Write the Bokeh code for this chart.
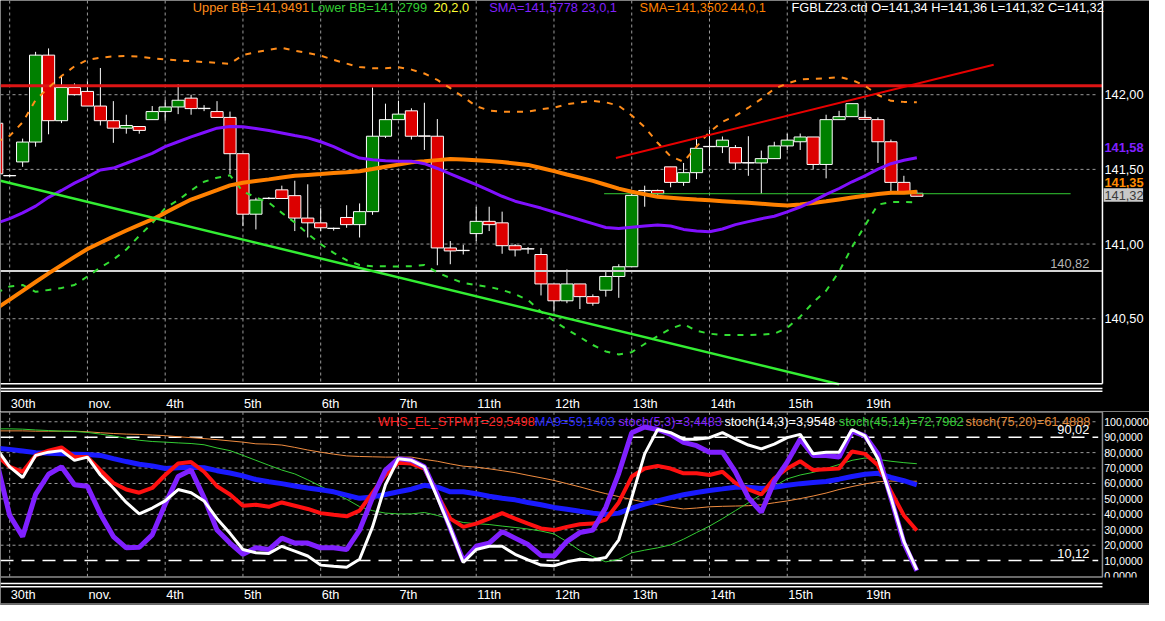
from bokeh.plotting import figure
from bokeh.layouts import column
from bokeh.models import Range1d
from bokeh.core.properties import value
from bokeh.embed import file_html
from bokeh.resources import INLINE

# ---------------- data ----------------
idx = list(range(-1, 71))

open_ = [141.809, 141.457, 141.550, 141.683, 142.265, 141.826, 142.048, 142.022, 141.924, 141.826,
         141.776, 141.787, 141.833, 141.887, 141.918, 141.977, 141.907, 141.887, 141.848, 141.605,
         141.200, 141.305, 141.363, 141.324, 141.174, 141.142, 141.104, 141.178, 141.130, 141.217,
         141.722, 141.833, 141.892, 141.722, 141.722, 140.974, 140.956, 141.070, 141.152, 141.142,
         140.989, 140.967, 140.930, 140.733, 140.620, 140.733, 140.648, 140.691, 140.783, 140.848,
         141.357, 141.359, 141.517, 141.413, 141.478, 141.652, 141.652, 141.646, 141.543, 141.543,
         141.572, 141.657, 141.685, 141.717, 141.533, 141.833, 141.853, 141.848, 141.833, 141.685,
         141.413, 141.340]
high = [141.820, 141.465, 141.706, 142.287, 142.310, 142.120, 142.076, 142.090, 142.179, 141.957,
        141.866, 141.790, 141.924, 141.967, 142.070, 142.000, 141.930, 141.957, 141.887, 141.605,
        141.310, 141.315, 141.391, 141.424, 141.400, 141.240, 141.110, 141.260, 141.272, 142.048,
        141.940, 141.960, 141.909, 141.946, 141.837, 141.020, 140.995, 141.250, 141.250, 141.217,
        141.000, 140.980, 140.974, 140.733, 140.830, 140.733, 140.663, 140.826, 140.865, 141.350,
        141.391, 141.365, 141.517, 141.543, 141.717, 141.765, 141.720, 141.663, 141.722, 141.626,
        141.685, 141.739, 141.740, 141.717, 141.866, 141.892, 141.940, 141.892, 141.848, 141.700,
        141.457, 141.360]
low = [141.470, 141.450, 141.517, 141.652, 141.735, 141.810, 141.995, 141.924, 141.794, 141.678,
       141.739, 141.739, 141.833, 141.826, 141.870, 141.866, 141.890, 141.848, 141.468, 141.120,
       141.098, 141.300, 141.305, 141.087, 141.044, 141.087, 141.090, 141.109, 141.044, 141.196,
       141.710, 141.833, 141.700, 141.630, 140.858, 140.865, 140.930, 141.020, 141.087, 140.935,
       140.917, 140.935, 140.656, 140.548, 140.604, 140.565, 140.587, 140.648, 140.640, 140.848,
       141.250, 141.330, 141.380, 141.390, 141.435, 141.522, 141.609, 141.500, 141.457, 141.337,
       141.572, 141.630, 141.630, 141.500, 141.440, 141.833, 141.853, 141.835, 141.543, 141.350,
       141.352, 141.320]
close = [141.470, 141.457, 141.683, 142.265, 141.826, 142.048, 142.000, 141.924, 141.826, 141.776,
         141.794, 141.761, 141.887, 141.918, 141.963, 141.907, 141.907, 141.848, 141.605, 141.200,
         141.295, 141.305, 141.305, 141.174, 141.142, 141.109, 141.104, 141.130, 141.217, 141.722,
         141.833, 141.870, 141.722, 141.722, 140.974, 140.954, 140.956, 141.152, 141.130, 140.989,
         140.961, 140.967, 140.733, 140.620, 140.733, 140.648, 140.604, 140.783, 140.848, 141.326,
         141.357, 141.337, 141.413, 141.478, 141.641, 141.652, 141.696, 141.543, 141.543, 141.572,
         141.657, 141.696, 141.717, 141.533, 141.833, 141.853, 141.940, 141.835, 141.685, 141.413,
         141.352, 141.320]

sma23 = [141.140, 141.170, 141.209, 141.254, 141.313, 141.359, 141.408, 141.450, 141.496, 141.509,
         141.541, 141.574, 141.607, 141.652, 141.685, 141.718, 141.747, 141.776, 141.787, 141.786,
         141.774, 141.760, 141.744, 141.727, 141.711, 141.685, 141.652, 141.613, 141.576, 141.564,
         141.558, 141.554, 141.554, 141.538, 141.506, 141.470, 141.434, 141.398, 141.359, 141.320,
         141.287, 141.264, 141.241, 141.215, 141.189, 141.163, 141.137, 141.111, 141.104, 141.113,
         141.121, 141.127, 141.121, 141.098, 141.088, 141.083, 141.101, 141.130, 141.150, 141.170,
         141.186, 141.215, 141.248, 141.287, 141.333, 141.372, 141.417, 141.457, 141.502, 141.538,
         141.561, 141.578]
sma44 = [140.570, 140.628, 140.687, 140.746, 140.804, 140.859, 140.914, 140.967, 141.009, 141.051,
         141.091, 141.128, 141.165, 141.209, 141.255, 141.298, 141.330, 141.361, 141.393, 141.410,
         141.422, 141.433, 141.445, 141.457, 141.463, 141.469, 141.476, 141.481, 141.488, 141.502,
         141.517, 141.532, 141.548, 141.554, 141.562, 141.569, 141.566, 141.561, 141.556, 141.549,
         141.540, 141.530, 141.509, 141.488, 141.466, 141.445, 141.423, 141.397, 141.371, 141.350,
         141.333, 141.316, 141.310, 141.304, 141.298, 141.293, 141.287, 141.281, 141.276, 141.270,
         141.264, 141.258, 141.265, 141.275, 141.286, 141.299, 141.312, 141.323, 141.335, 141.344,
         141.344, 141.350]
upper_bb = [141.685, 141.724, 141.815, 141.965, 142.047, 142.125, 142.190, 142.233, 142.248, 142.257,
            142.259, 142.256, 142.244, 142.236, 142.230, 142.224, 142.219, 142.213, 142.207, 142.266,
            142.285, 142.301, 142.314, 142.295, 142.280, 142.262, 142.233, 142.208, 142.185, 142.177,
            142.177, 142.184, 142.168, 142.142, 142.099, 142.044, 141.985, 141.923, 141.894, 141.886,
            141.886, 141.887, 141.903, 141.913, 141.936, 141.949, 141.959, 141.949, 141.926, 141.861,
            141.783, 141.678, 141.587, 141.551, 141.652, 141.750, 141.819, 141.858, 141.913, 141.972,
            142.040, 142.076, 142.102, 142.106, 142.109, 142.119, 142.098, 142.060, 141.998, 141.959,
            141.952, 141.949]
lower_bb = [140.674, 140.716, 140.726, 140.680, 140.693, 140.706, 140.726, 140.783, 140.843, 140.896,
            140.964, 141.055, 141.140, 141.241, 141.294, 141.359, 141.417, 141.444, 141.460, 141.352,
            141.313, 141.277, 141.209, 141.144, 141.069, 141.000, 140.941, 140.892, 140.860, 140.852,
            140.852, 140.849, 140.852, 140.860, 140.811, 140.772, 140.739, 140.725, 140.713, 140.693,
            140.664, 140.625, 140.547, 140.485, 140.429, 140.377, 140.324, 140.281, 140.261, 140.276,
            140.331, 140.384, 140.433, 140.464, 140.419, 140.400, 140.391, 140.391, 140.391, 140.393,
            140.400, 140.439, 140.514, 140.609, 140.687, 140.815, 140.980, 141.124, 141.264, 141.282,
            141.282, 141.280]

whs_stpmt = [78.2, 70.8, 67.6, 78.2, 81.3, 83.4, 77.1, 77.1, 68.7, 60.3,
             56.1, 54.0, 57.1, 65.5, 72.9, 73.9, 67.6, 58.2, 52.9, 45.6,
             46.2, 44.9, 47.7, 45.6, 43.5, 40.8, 39.7, 38.7, 42.4, 54.0,
             65.5, 73.5, 72.9, 69.7, 52.9, 37.2, 31.9, 34.0, 37.2, 40.8,
             37.2, 34.0, 30.9, 29.8, 31.9, 33.6, 34.0, 36.6, 47.7, 64.5,
             69.7, 71.4, 69.7, 66.6, 66.6, 65.5, 67.6, 60.3, 56.1, 52.9,
             63.4, 69.7, 74.4, 68.7, 69.3, 69.7, 80.7, 79.2, 71.8, 55.0,
             39.3, 29.55]
ma9 = [82.8, 82.1, 81.1, 80.0, 79.6, 79.2, 79.0, 78.8, 78.2, 76.1,
       74.2, 72.5, 71.4, 69.7, 70.2, 70.6, 70.2, 68.3, 66.8, 64.9,
       62.6, 61.1, 59.9, 58.4, 57.1, 55.9, 54.6, 52.5, 50.4, 51.3,
       52.9, 54.6, 56.3, 58.8, 57.6, 54.6, 54.6, 53.4, 51.7, 50.4,
       49.4, 47.7, 46.2, 44.5, 43.3, 42.0, 40.8, 39.9, 40.8, 44.1,
       46.6, 48.7, 50.8, 52.7, 54.2, 55.5, 56.5, 57.6, 57.6, 56.7,
       57.6, 58.8, 59.9, 60.7, 61.3, 62.8, 64.5, 66.0, 66.6, 63.9,
       61.8, 59.14]
stoch_5_3 = [74.0, 39.3, 25.6, 52.9, 66.0, 70.8, 59.2, 58.2, 40.3, 25.6,
             18.3, 18.7, 26.7, 46.6, 64.5, 68.7, 50.8, 29.8, 21.4, 14.1,
             18.3, 17.2, 24.6, 21.4, 21.4, 18.3, 18.3, 17.2, 29.8, 50.8,
             68.7, 76.1, 75.0, 70.8, 52.9, 30.9, 9.9, 19.3, 21.4, 28.8,
             24.6, 20.4, 13.4, 13.0, 22.5, 28.2, 29.8, 44.5, 66.6, 92.9,
             96.6, 95.0, 91.8, 86.6, 84.5, 80.3, 80.3, 67.6, 50.8, 41.4,
             61.3, 73.9, 88.7, 78.2, 78.2, 77.1, 93.9, 90.8, 79.2, 50.8,
             21.4, 3.45]
stoch_14_3 = [82.5, 70.8, 63.9, 78.2, 80.3, 81.3, 75.0, 77.1, 65.5, 57.1,
              47.7, 40.3, 44.1, 48.7, 56.1, 54.0, 48.7, 37.2, 27.7, 17.2,
              15.1, 14.7, 19.3, 16.2, 13.0, 7.1, 6.3, 5.7, 10.9, 31.9,
              59.2, 76.1, 75.0, 70.8, 50.8, 30.9, 8.8, 17.2, 19.3, 19.3,
              14.1, 10.5, 7.1, 6.7, 9.2, 10.9, 10.5, 12.0, 23.5, 50.8,
              79.2, 95.0, 92.9, 88.7, 88.7, 89.7, 92.9, 88.7, 84.9, 82.4,
              85.5, 89.7, 91.8, 79.2, 80.3, 80.3, 95.0, 90.8, 76.1, 50.8,
              22.5, 3.95]
stoch_45_14 = [95.4, 95.4, 95.2, 94.7, 94.3, 93.9, 93.7, 93.1, 92.0, 90.8,
               89.3, 88.0, 87.2, 86.8, 86.3, 85.9, 85.1, 83.0, 81.3, 78.2,
               75.0, 71.8, 68.7, 66.2, 62.4, 58.2, 54.0, 49.8, 45.0, 42.4,
               40.8, 40.3, 40.3, 41.2, 39.3, 36.8, 34.7, 34.0, 33.4, 32.4,
               31.5, 30.5, 29.2, 27.3, 22.3, 16.6, 12.6, 9.2, 10.9, 15.1,
               16.8, 18.3, 20.2, 23.9, 28.2, 32.4, 37.2, 42.4, 47.5, 52.9,
               58.2, 63.0, 65.5, 67.2, 69.7, 72.3, 75.0, 76.5, 75.6, 74.4,
               73.5, 72.80]
stoch_75_20 = [94.1, 94.1, 94.1, 93.9, 93.9, 93.9, 93.9, 93.5, 92.9, 92.4,
               92.0, 91.8, 91.4, 91.0, 90.3, 89.7, 89.1, 88.4, 87.6, 86.8,
               85.7, 85.5, 84.9, 83.4, 81.7, 80.3, 79.0, 77.9, 77.5, 77.3,
               77.1, 77.1, 77.1, 75.6, 74.4, 72.7, 71.2, 70.6, 69.5, 68.3,
               67.0, 65.3, 63.7, 62.0, 59.9, 57.8, 55.5, 53.4, 51.5, 49.6,
               47.9, 46.2, 44.7, 43.5, 44.1, 44.9, 45.2, 45.4, 45.6, 46.2,
               47.5, 48.7, 50.2, 51.9, 53.8, 56.1, 58.0, 59.7, 61.1, 61.6,
               61.3, 61.49]

# user-drawn lines (candle index, price)
red_trend_x = [46.78, 75.93]
red_trend_y = [141.576, 142.200]
green_trend_x = [-0.71, 64.0]
green_trend_y = [141.424, 140.061]
red_level = 142.06
white_level = 140.82
green_level = 141.337
green_level_start = 45.87

day_pos = [0, 6, 12, 18, 24, 30, 36, 42, 48, 54, 60, 66]
day_labels = ["30th", "nov.", "4th", "5th", "6th", "7th", "11th", "12th", "13th", "14th", "15th", "19th"]
price_ticks = [142.0, 141.5, 141.0, 140.5]
price_tick_labels = ["142,00", "141,50", "141,00", "140,50"]
osc_ticks = [100, 90, 80, 70, 60, 50, 40, 30, 20, 10, 0]
osc_tick_labels = ["100,0000", "90,0000", "80,0000", "70,0000", "60,0000", "50,0000",
                   "40,0000", "30,0000", "20,0000", "10,0000", "0,0000"]
osc_grid = [100, 80, 70, 60, 50, 40, 30, 20]
osc_levels = [90.02, 10.12]
osc_level_labels = ["90,02", "10,12"]

header_texts = ["Upper BB=141,9491", "Lower BB=141,2799", "20,2,0", "SMA=141,5778", "23,0,1",
                "SMA=141,3502", "44,0,1", "FGBLZ23.ctd O=141,34 H=141,36 L=141,32 C=141,32"]
header_colors = ["#ff8c1a", "#33cc33", "#ffff33", "#8020ff", "#8020ff", "#ff8000", "#ff8000", "#ffffff"]
osc_legend = ["WHS_EL_STPMT=29,5498", "MA9=59,1403", "stoch(5,3)=3,4483", "stoch(14,3)=3,9548",
              "stoch(45,14)=72,7982", "stoch(75,20)=61,4888"]
osc_legend_colors = ["#ff2020", "#2a2aff", "#8020ff", "#ffffff", "#33cc33", "#e08a3a"]

# ---------------- layout (reference pixels -> page) ----------------
REF_W, REF_H = 1165, 621
W, H = 1149, 605
SX, SY = W / REF_W, H / REF_H
H1 = round(421.7 * SY)
H2 = H - H1
OSC_TOP = H1 / SY

def xi(px):   # reference x pixel -> candle index
    return (px - 9.3) / 13.14

def yp(py):   # reference y pixel -> price
    return 142 - (py - 96.7) / 153.3

def yo(py):   # reference y pixel -> oscillator value
    return (590.8 - py) / 1.584

header_x = [xi(v) for v in [195, 314.6, 439, 495.6, 589, 648, 740, 802]]
osc_legend_x = [xi(v) for v in [382.7, 541.7, 626.7, 734, 850, 978.5]]

FONT = value("Liberation Sans")
FS = value(f"{13 * SX:.1f}px")
FS_OSC_AX = value("10.7px")
GRID_C = "#9a9a9a"


def make_fig(h, yr):
    f = figure(width=W, height=h, x_range=Range1d(xi(0), xi(REF_W)), y_range=yr,
               output_backend="svg", toolbar_location=None,
               x_axis_location=None, y_axis_location=None, min_border=0,
               background_fill_color="black", border_fill_color="black",
               outline_line_color=None)
    f.grid.visible = False
    return f

# ---------------- price panel ----------------
p = make_fig(H1, Range1d(yp(H1 / SY), yp(0)))

p.segment(x0=day_pos, y0=[yp(0)] * len(day_pos), x1=day_pos, y1=[yp(393.3)] * len(day_pos),
          line_color=GRID_C, line_width=1, line_dash="3 3")
p.segment(x0=[xi(0)] * 4, y0=price_ticks, x1=[xi(1113)] * 4, y1=price_ticks,
          line_color=GRID_C, line_width=1, line_dash="3 3")

p.segment(x0=idx, y0=low, x1=idx, y1=high, line_color="white", line_width=1)
tops = [max(o, c) for o, c in zip(open_, close)]
bots = [min(o, c) for o, c in zip(open_, close)]
tops = [t if t - b > 0.002 else b + 0.002 for t, b in zip(tops, bots)]
cols = ["#008000" if c > o else "#dc0000" for o, c in zip(open_, close)]
p.vbar(x=idx, width=0.94, top=tops, bottom=bots, fill_color=cols, line_color="white", line_width=1)

p.line([xi(0), xi(1117.3)], [white_level] * 2, line_color="#d4d4d4", line_width=2)
p.line([xi(0), xi(1117.3)], [red_level] * 2, line_color="#dd1515", line_width=3)
p.line([green_level_start, xi(1085)], [green_level] * 2, line_color="#33cc33", line_width=1)

p.line(idx, upper_bb, line_color="#ff8c1a", line_width=2, line_dash="6 7")
p.line(idx, lower_bb, line_color="#33dd33", line_width=2, line_dash="6 7")
p.line(idx, sma44, line_color="#ff8000", line_width=4)
p.line(idx, sma23, line_color="#8010ff", line_width=3)
p.line(red_trend_x, red_trend_y, line_color="#e80000", line_width=2)
p.line(green_trend_x, green_trend_y, line_color="#33ee33", line_width=2.5)

# panel borders
p.line([xi(1117.3)] * 2, [yp(0), yp(393.3)], line_color="white", line_width=1.5)
for yy in (393.3, 398.3, 401.2):
    p.line([xi(0), xi(1117.3)], [yp(yy)] * 2, line_color="white", line_width=1.5)

# texts
p.text(x=header_x, y=[yp(7.4)] * len(header_x), text=header_texts, text_color=header_colors,
       text_font=FONT, text_font_size=FS, text_baseline="middle", text_align="left")
p.text(x=day_pos, y=[yp(413.3)] * len(day_pos), text=day_labels, text_color="white",
       text_font=FONT, text_font_size=FS, text_baseline="middle", text_align="left", x_offset=1)
p.text(x=[xi(1119.3)] * 4, y=price_ticks, text=price_tick_labels, text_color="white",
       text_font=FONT, text_font_size=FS, text_baseline="middle", text_align="left")
p.text(x=[xi(1119.3)] * 2, y=[yp(150.7), yp(186.7)], text=["141,58", "141,35"],
       text_color=["#8020ff", "#ff8c00"], text_font=FONT, text_font_size=FS,
       text_font_style="bold", text_baseline="middle", text_align="left")
p.quad(left=[xi(1118.5)], right=[xi(1158.5)], top=[yp(192.7)], bottom=[yp(206.7)],
       fill_color="#c8c8c8", line_color=None)
p.text(x=[xi(1119.3)], y=[yp(200)], text=["141,32"], text_color="#3a3a3a",
       text_font=FONT, text_font_size=FS, text_baseline="middle", text_align="left")
p.text(x=[xi(1104)], y=[yp(270)], text=["140,82"], text_color="#b4b4b4",
       text_font=FONT, text_font_size=FS, text_baseline="middle", text_align="right")

# ---------------- oscillator panel ----------------
o = make_fig(H2, Range1d(yo(REF_H), yo(OSC_TOP)))

o.segment(x0=day_pos, y0=[yo(422.2)] * len(day_pos), x1=day_pos, y1=[yo(591.7)] * len(day_pos),
          line_color=GRID_C, line_width=1, line_dash="3 3")
o.segment(x0=[xi(0)] * len(osc_grid), y0=osc_grid, x1=[xi(1113)] * len(osc_grid), y1=osc_grid,
          line_color=GRID_C, line_width=1, line_dash="3 3")
o.segment(x0=[xi(0)] * 2, y0=osc_levels, x1=[xi(1113)] * 2, y1=osc_levels,
          line_color="white", line_width=1.5, line_dash="13 8")
# box
o.line([xi(0), xi(1117.3), xi(1117.3), xi(0)], [yo(422.3), yo(422.3), yo(591.7), yo(591.7)],
       line_color="#8c8c8c", line_width=1.5)

o.line(idx, stoch_75_20, line_color="#f08c40", line_width=1)
o.line(idx, stoch_45_14, line_color="#33cc33", line_width=1)
o.line(idx, ma9, line_color="#1a1aff", line_width=5)
o.line(idx, whs_stpmt, line_color="#ff1010", line_width=4)
o.line(idx, stoch_5_3, line_color="#8020ff", line_width=5)
o.line(idx, stoch_14_3, line_color="white", line_width=3)

o.text(x=osc_legend_x, y=[yo(431.7)] * len(osc_legend_x), text=osc_legend, text_color=osc_legend_colors,
       text_font=FONT, text_font_size=FS, text_baseline="middle", text_align="left")
o.text(x=[xi(1104)] * 2, y=[yo(440), yo(567.3)], text=osc_level_labels, text_color="white",
       text_font=FONT, text_font_size=FS, text_baseline="middle", text_align="right")
o.text(x=[xi(1119)] * len(osc_ticks), y=osc_ticks, text=osc_tick_labels, text_color="white",
       text_font=FONT, text_font_size=FS_OSC_AX, text_baseline="middle", text_align="left")
o.quad(left=[xi(1118)], right=[xi(REF_W)], top=[yo(592.2)], bottom=[yo(REF_H)],
       fill_color="black", line_color=None)
for yy in (598.3, 601.7):
    o.line([xi(0), xi(1117.3)], [yo(yy)] * 2, line_color="white", line_width=1.5)
o.line([xi(0), xi(REF_W)], [yo(619.5)] * 2, line_color="#909090", line_width=1.5)
o.text(x=day_pos, y=[yo(609.3)] * len(day_pos), text=day_labels, text_color="white",
       text_font=FONT, text_font_size=FS, text_baseline="middle", text_align="left", x_offset=1)

layout = column(p, o, spacing=0)
open("out.html", "w").write(file_html(layout, INLINE))
